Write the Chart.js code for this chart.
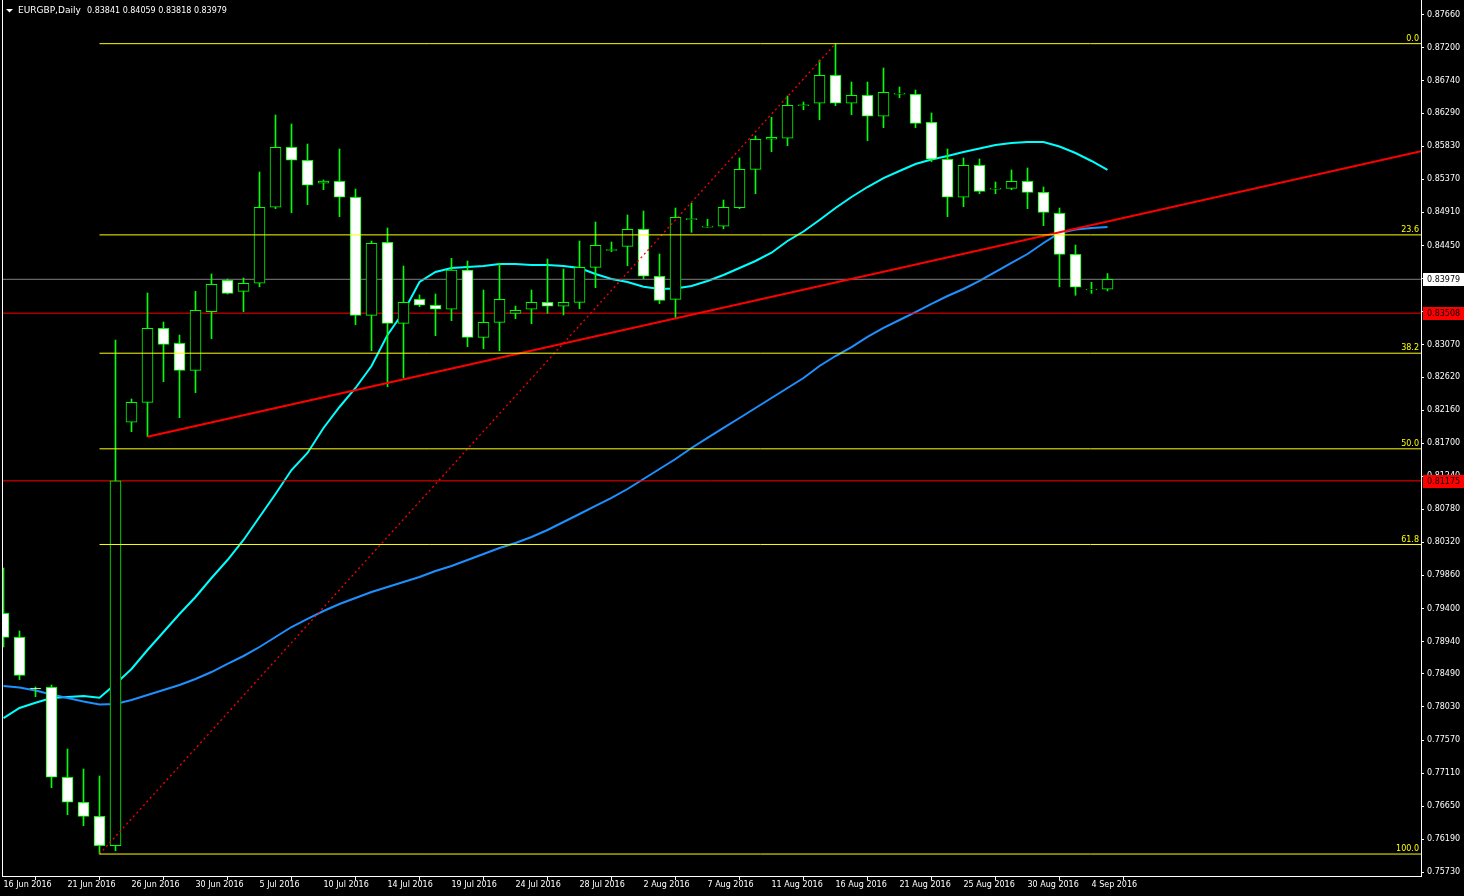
<!DOCTYPE html>
<html>
<head>
<meta charset="utf-8">
<script src="https://cdn.jsdelivr.net/npm/chart.js@4.4.0/dist/chart.umd.min.js"></script>
<style>
html, body { margin: 0; padding: 0; background: #000; }
canvas { display: block; }
</style>
</head>
<body>
<canvas id="chart-eurgbp" width="1464" height="896"></canvas>
<script>
const symbolTitle = 'EURGBP,Daily';
const lastBar = '0.83841 0.84059 0.83818 0.83979';

// daily bars, 16 Jun 2016 .. 5 Sep 2016 (index 0..69, sunday bars included)
const opens = [
  0.79333, 0.78999, 0.78294, 0.78303, 0.77052, 0.76704, 0.76509, 0.76100, 0.81990, 0.82268,
  0.83298, 0.83089, 0.82713, 0.83528, 0.83965, 0.83812, 0.83924, 0.84981, 0.85815, 0.85635,
  0.85315, 0.85342, 0.85120, 0.83478, 0.84494, 0.83367, 0.83701, 0.83618, 0.83562, 0.84109,
  0.83172, 0.83381, 0.83506, 0.83562, 0.83659, 0.83604, 0.83659, 0.84146, 0.84380, 0.84438,
  0.84675, 0.84021, 0.83701, 0.84810, 0.84705, 0.84717, 0.84975, 0.85509, 0.85927, 0.85941,
  0.86393, 0.86428, 0.86817, 0.86428, 0.86539, 0.86247, 0.86556, 0.86553, 0.86163, 0.85649,
  0.85120, 0.85565, 0.85233, 0.85245, 0.85342, 0.85189, 0.84897, 0.84327, 0.83832, 0.83841
];
const highs = [
  0.79963, 0.79087, 0.78308, 0.78336, 0.77445, 0.77167, 0.77070, 0.83135, 0.82314, 0.83789,
  0.83385, 0.83204, 0.83812, 0.84053, 0.83983, 0.83997, 0.85472, 0.86265, 0.86140, 0.85861,
  0.85361, 0.85792, 0.85235, 0.84512, 0.84693, 0.84164, 0.83761, 0.83775, 0.84271, 0.84234,
  0.83830, 0.84202, 0.83608, 0.83830, 0.84262, 0.84122, 0.84512, 0.84776, 0.84498, 0.84874,
  0.84929, 0.84331, 0.84971, 0.85036, 0.84814, 0.85082, 0.85667, 0.85973, 0.86233, 0.86529,
  0.86446, 0.87030, 0.87257, 0.86724, 0.86724, 0.86919, 0.86654, 0.86613, 0.86293, 0.85792,
  0.85667, 0.85653, 0.85333, 0.85500, 0.85528, 0.85263, 0.84971, 0.84456, 0.83937, 0.84059
];
const lows = [
  0.78864, 0.78409, 0.78173, 0.76907, 0.76531, 0.76378, 0.75984, 0.76030, 0.81859, 0.81790,
  0.82555, 0.82054, 0.82402, 0.83153, 0.83775, 0.83528, 0.83876, 0.84961, 0.84906, 0.85017,
  0.85226, 0.84850, 0.83348, 0.82986, 0.82485, 0.82606, 0.83598, 0.83195, 0.83403, 0.83042,
  0.83014, 0.82986, 0.83431, 0.83362, 0.83506, 0.83483, 0.83570, 0.83862, 0.84363, 0.84168,
  0.83988, 0.83640, 0.83437, 0.84633, 0.84702, 0.84683, 0.84961, 0.85170, 0.85754, 0.85838,
  0.86338, 0.86199, 0.86394, 0.86269, 0.85907, 0.86088, 0.86505, 0.86088, 0.85615, 0.84850,
  0.84989, 0.85170, 0.85170, 0.85226, 0.84961, 0.84725, 0.83876, 0.83757, 0.83784, 0.83818
];
const closes = [
  0.78999, 0.78470, 0.78285, 0.77052, 0.76704, 0.76509, 0.76100, 0.81175, 0.82268, 0.83298,
  0.83075, 0.82713, 0.83548, 0.83910, 0.83784, 0.83924, 0.84981, 0.85815, 0.85635, 0.85287,
  0.85347, 0.85120, 0.83478, 0.84480, 0.83367, 0.83659, 0.83618, 0.83562, 0.84109, 0.83172,
  0.83381, 0.83701, 0.83548, 0.83659, 0.83604, 0.83659, 0.84146, 0.84452, 0.84394, 0.84675,
  0.84021, 0.83687, 0.84842, 0.84824, 0.84718, 0.84981, 0.85509, 0.85927, 0.85955, 0.86400,
  0.86407, 0.86817, 0.86428, 0.86539, 0.86247, 0.86581, 0.86570, 0.86149, 0.85649, 0.85120,
  0.85565, 0.85203, 0.85247, 0.85342, 0.85189, 0.84911, 0.84327, 0.83868, 0.83844, 0.83979
];

// moving averages
const maFast = [
  0.77876, 0.78016, 0.78089, 0.78155, 0.78169, 0.78182, 0.78159, 0.78349, 0.78558, 0.78822,
  0.79073, 0.79323, 0.79560, 0.79824, 0.80074, 0.80353, 0.80673, 0.80993, 0.81326, 0.81563,
  0.81911, 0.82203, 0.82467, 0.82773, 0.83204, 0.83524, 0.83942, 0.84081, 0.84136, 0.84150,
  0.84164, 0.84192, 0.84192, 0.84178, 0.84178, 0.84164, 0.84136, 0.84053, 0.83983, 0.83942,
  0.83876, 0.83844, 0.83851, 0.83886, 0.83956, 0.84039, 0.84136, 0.84234, 0.84349, 0.84512,
  0.84644, 0.84804, 0.84971, 0.85124, 0.85263, 0.85388, 0.85486, 0.85583, 0.85646, 0.85694,
  0.85750, 0.85799, 0.85847, 0.85875, 0.85889, 0.85889, 0.85827, 0.85736, 0.85625, 0.85500
];
const maSlow = [
  0.78322, 0.78301, 0.78259, 0.78203, 0.78155, 0.78106, 0.78064, 0.78071, 0.78127, 0.78196,
  0.78266, 0.78336, 0.78419, 0.78516, 0.78628, 0.78739, 0.78864, 0.79003, 0.79142, 0.79254,
  0.79365, 0.79462, 0.79546, 0.79629, 0.79699, 0.79768, 0.79838, 0.79921, 0.79991, 0.80074,
  0.80158, 0.80241, 0.80311, 0.80394, 0.80492, 0.80603, 0.80714, 0.80826, 0.80937, 0.81062,
  0.81201, 0.81340, 0.81479, 0.81632, 0.81772, 0.81911, 0.82050, 0.82189, 0.82328, 0.82467,
  0.82606, 0.82773, 0.82912, 0.83037, 0.83177, 0.83302, 0.83413, 0.83524, 0.83636, 0.83747,
  0.83844, 0.83956, 0.84081, 0.84206, 0.84331, 0.84484, 0.84623, 0.84672, 0.84693, 0.84707
];

const xTickIdx = [0, 4, 8, 12, 16, 20, 24, 28, 32, 36, 40, 44, 48, 52, 56, 60, 64, 68];
const xTickLabels = ['16 Jun 2016', '21 Jun 2016', '26 Jun 2016', '30 Jun 2016', '5 Jul 2016',
  '10 Jul 2016', '14 Jul 2016', '19 Jul 2016', '24 Jul 2016', '28 Jul 2016', '2 Aug 2016',
  '7 Aug 2016', '11 Aug 2016', '16 Aug 2016', '21 Aug 2016', '25 Aug 2016', '30 Aug 2016', '4 Sep 2016'];
const yTicks = [0.87660, 0.87200, 0.86740, 0.86290, 0.85830, 0.85370, 0.84910, 0.84450, 0.83990,
  0.83530, 0.83070, 0.82620, 0.82160, 0.81700, 0.81240, 0.80780, 0.80320, 0.79860, 0.79400,
  0.78940, 0.78490, 0.78030, 0.77570, 0.77110, 0.76650, 0.76190, 0.75730];

// fibo retracement + objects
const fibNames = ['0.0', '23.6', '38.2', '50.0', '61.8', '100.0'];
const fibPrices = [0.87257, 0.84597, 0.82951, 0.81621, 0.80290, 0.75984];
const fibAnchorX = [6, 52];
const fibAnchorY = [0.75984, 0.87257];
const trendX = [9, 88.6];
const trendY = [0.81790, 0.85762];
const bidPrice = 0.83979;
const redLevels = [0.83508, 0.81175];

const xMin = -0.09375, xMax = 88.59375;
const yMin = 0.756785, yMax = 0.878645;

Chart.defaults.font.family = '"DejaVu Sans", sans-serif';
Chart.defaults.font.size = 8;

const pts = (xs, ys) => xs.map((x, i) => ({ x: x, y: ys[i] }));
const flat = (x0, p) => [{ x: x0, y: p }, { x: xMax, y: p }];
const lineDs = (data, color, width, order, extra) => Object.assign({
  type: 'line', data: data, borderColor: color, borderWidth: width, pointRadius: 0,
  fill: false, tension: 0, order: order
}, extra || {});
const noPad = s => { s.paddingTop = 0; s.paddingBottom = 0; s.paddingLeft = 0; s.paddingRight = 0; };

let datasets = [];
// under the candles
datasets.push(lineDs(flat(xMin, bidPrice), '#808080', 1, 3));
redLevels.forEach(p => datasets.push(lineDs(flat(xMin, p), '#ff0000', 1, 3)));
datasets.push(lineDs(maSlow.map((v, i) => ({ x: i, y: v })), '#1e90ff', 2, 3));
datasets.push(lineDs(maFast.map((v, i) => ({ x: i, y: v })), '#00ffff', 2, 3));
// candles
datasets.push({
  type: 'bar', data: lows.map((l, i) => ({ x: i, y: [l, highs[i]] })),
  backgroundColor: '#00ff00', borderWidth: 0, barThickness: 1, grouped: false, order: 2
});
datasets.push({
  type: 'bar', data: opens.map((o, i) => ({ x: i, y: [o, closes[i]] })),
  backgroundColor: opens.map((o, i) => closes[i] >= o ? '#000000' : '#ffffff'),
  borderColor: '#00ff00', borderWidth: 1, borderSkipped: false,
  barThickness: 11, grouped: false, order: 1
});
// objects on top
fibPrices.forEach(p => datasets.push(lineDs(flat(fibAnchorX[0], p), '#ffff00', 1, 0)));
datasets.push(lineDs(pts(fibAnchorX, fibAnchorY), '#ff0000', 1.3, 0, { borderDash: [2, 3] }));
datasets.push(lineDs(pts(trendX, trendY), '#ff0000', 2, 0));

const mtOverlay = {
  id: 'mtOverlay',
  afterDraw(chart) {
    const { ctx, chartArea } = chart;
    const y = chart.scales.y;
    ctx.save();
    ctx.strokeStyle = '#ffffff';
    ctx.lineWidth = 1;
    ctx.beginPath();
    ctx.moveTo(chartArea.left + 0.5, chartArea.top);
    ctx.lineTo(chartArea.left + 0.5, chartArea.bottom);
    ctx.stroke();

    ctx.font = '8px "DejaVu Sans"';
    ctx.fillStyle = '#ffff00';
    ctx.textAlign = 'right';
    ctx.textBaseline = 'bottom';
    fibNames.forEach((n, i) => {
      ctx.fillText(n, chartArea.right - 2, y.getPixelForValue(fibPrices[i]) - 1);
    });

    const box = (p, bg) => {
      const py = Math.round(y.getPixelForValue(p));
      ctx.fillStyle = bg;
      ctx.fillRect(chartArea.right + 2, py - 6, 42, 13);
      ctx.fillStyle = '#000000';
      ctx.textAlign = 'left';
      ctx.textBaseline = 'middle';
      ctx.fillText(p.toFixed(5), chartArea.right + 6, py + 1);
    };
    box(bidPrice, '#ffffff');
    redLevels.forEach(p => box(p, '#ff0000'));

    // title
    ctx.fillStyle = '#ffffff';
    ctx.beginPath();
    ctx.moveTo(6, 9); ctx.lineTo(13, 9); ctx.lineTo(9.5, 12.5);
    ctx.closePath();
    ctx.fill();
    ctx.textAlign = 'left';
    ctx.textBaseline = 'middle';
    ctx.font = '9px "DejaVu Sans"';
    ctx.fillText(symbolTitle, 18, 11);
    ctx.font = '8px "DejaVu Sans"';
    ctx.fillText(lastBar, 87, 11);
    ctx.restore();
  }
};

new Chart(document.getElementById('chart-eurgbp'), {
  type: 'bar',
  data: { datasets: datasets },
  options: {
    responsive: false,
    animation: false,
    devicePixelRatio: 1,
    events: [],
    layout: { padding: { left: 2, top: 0, right: 0, bottom: 0 } },
    plugins: { legend: { display: false }, tooltip: { enabled: false }, title: { display: false } },
    scales: {
      x: {
        type: 'linear', min: xMin, max: xMax, offset: false,
        afterBuildTicks: s => { s.ticks = xTickIdx.map(v => ({ value: v })); },
        afterFit: s => { s.height = 20; noPad(s); },
        grid: { display: true, drawOnChartArea: false, drawTicks: true, tickLength: 4, color: '#ffffff' },
        border: { display: true, color: '#ffffff' },
        ticks: {
          color: '#ffffff', autoSkip: false, maxRotation: 0, minRotation: 0, align: 'start', padding: 0,
          callback: (v, i) => xTickLabels[i]
        }
      },
      y: {
        type: 'linear', position: 'right', min: yMin, max: yMax,
        afterBuildTicks: s => { s.ticks = yTicks.map(v => ({ value: v })); },
        afterFit: s => { s.width = 43; noPad(s); },
        grid: { display: true, drawOnChartArea: false, drawTicks: true, tickLength: 3, color: '#ffffff' },
        border: { display: true, color: '#ffffff' },
        ticks: { color: '#ffffff', autoSkip: false, padding: 3, callback: v => v.toFixed(5) }
      }
    }
  },
  plugins: [mtOverlay]
});
</script>
</body>
</html>
